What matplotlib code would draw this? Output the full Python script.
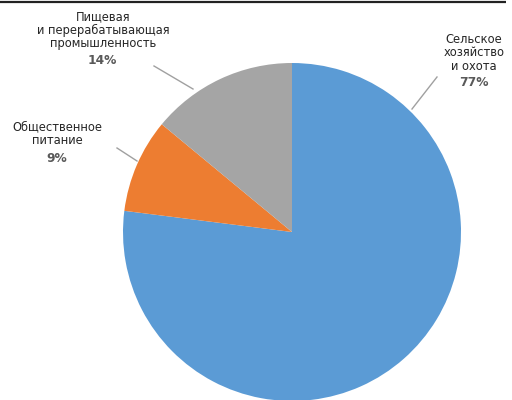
import matplotlib.pyplot as plt

# данные
labels = ["Сельское\nхозяйство\nи охота", "Общественное\nпитание", "Пищевая\nи перерабатывающая\nпромышленность"]
shares = [77, 9, 14]
colors = ["#5B9BD5", "#ED7D31", "#A5A5A5"]

W, H = 512, 400
fig = plt.figure(figsize=(W / 100, H / 100), dpi=100)
ax = fig.add_axes([0, 0, 1, 1])

# pie centre / radius in pixel coordinates (y up)
cx, cy, r = 292, H - 232, 169
ax.pie(shares, colors=colors, startangle=90, counterclock=False,
       center=(cx, cy), radius=r, frame=True,
       wedgeprops=dict(linewidth=0))
ax.set_xlim(0, W)
ax.set_ylim(0, H)
ax.set_aspect("auto")
ax.axis("off")

# top rule
ax.plot([0, 506], [H - 1.5, H - 1.5], color="#222222", lw=1.6, solid_capstyle="butt")

# label positions (pixel)
txt_pos = [(474, 53), (57, 134), (103, 30)]
pct_pos = [(474, 82), (57, 158), (102, 61)]
leaders = [((412, 109), (437, 77)), ((117, 148), (137, 161)), ((154, 66), (193, 89))]

for lab, s, (tx, ty), (px, py), ((x1, y1), (x2, y2)) in zip(labels, shares, txt_pos, pct_pos, leaders):
    ax.text(tx, H - ty, lab, ha="center", va="center", fontsize=8.3,
            color="#262626", linespacing=1.05, family="DejaVu Sans")
    ax.text(px, H - py, f"{s}%", ha="center", va="center", fontsize=8.8,
            fontweight="bold", color="#595959", family="DejaVu Sans")
    ax.plot([x1, x2], [H - y1, H - y2], color="#A0A0A0", lw=1)

fig.savefig("out.png", dpi=100)
